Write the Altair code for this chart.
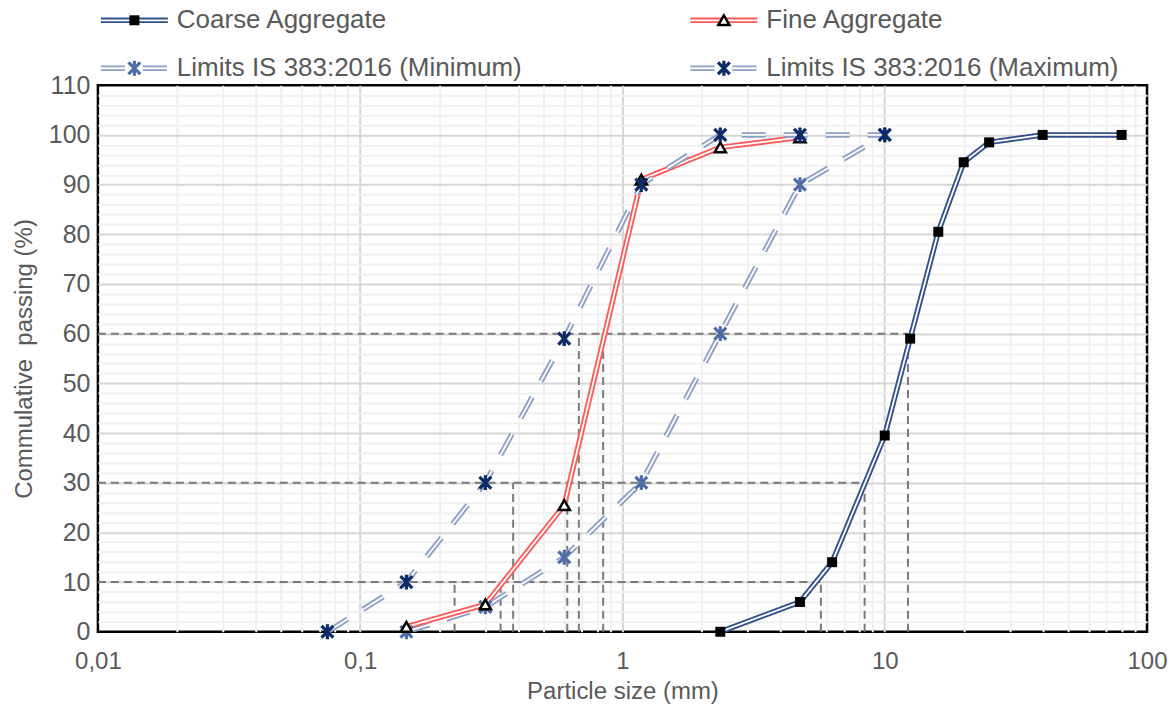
import altair as alt
import pandas as pd

# ---------------- data ----------------
series_names = [
    "Coarse Aggregate",
    "Fine Aggregate",
    "Limits IS 383:2016 (Minimum)",
    "Limits IS 383:2016 (Maximum)",
]

coarse_size = [2.36, 4.75, 6.3, 10, 12.5, 16, 20, 25, 40, 80]
coarse_pass = [0, 6, 14, 39.5, 59, 80.5, 94.5, 98.5, 100, 100]

fine_size = [0.15, 0.3, 0.6, 1.18, 2.36, 4.75]
fine_pass = [1, 5.5, 25.5, 91, 97.5, 99.5]

min_size = [0.15, 0.3, 0.6, 1.18, 2.36, 4.75, 10]
min_pass = [0, 5, 15, 30, 60, 90, 100]

max_size = [0.075, 0.15, 0.3, 0.6, 1.18, 2.36, 4.75, 10]
max_pass = [0, 10, 30, 59, 90, 100, 100, 100]

# dashed reference lines (D10 / D30 / D60 read-offs)
vline_size = [0.229, 0.343, 0.383, 0.616, 0.682, 0.844, 5.71, 8.38, 12.26]
vline_top = [10, 10, 30, 30, 60, 60, 10, 30, 60]
vline_base = [0] * len(vline_size)
hline_pass = [10, 30, 60]
hline_start = [0.01, 0.01, 0.01]
hline_end = [5.71, 8.38, 12.26]

x_major = [0.01, 0.1, 1, 10, 100]
x_minor = [m * 10.0 ** e for e in range(-2, 2) for m in range(2, 10)]
y_grid = list(range(0, 111, 2))

# ---------------- styles ----------------
FONT = "Liberation Sans"
TXT = "#595959"
line_colors = ["#31508c", "#ff5a5a", "#8c9fc4", "#8c9fc4"]
dashes = [[1, 0], [1, 0], [24, 18], [24, 18]]
ASTER = "M-0.8,-0.8L0.8,0.8M-0.8,0.8L0.8,-0.8M0,-1L0,1"

marker_props = {
    series_names[0]: dict(shape="square", filled=True, color="#000000", size=100, opacity=1),
    series_names[1]: dict(shape="triangle-up", filled=True, fill="#ffffff", stroke="#000000",
                          strokeWidth=2.5, size=125, opacity=1),
    series_names[2]: dict(shape=ASTER, filled=False, stroke="#4f6da6", strokeWidth=3.2,
                          size=220, opacity=1),
    series_names[3]: dict(shape=ASTER, filled=False, stroke="#0d2b66", strokeWidth=3.2,
                          size=220, opacity=1),
}

rows = []
for name, xs, ys in zip(series_names,
                        [coarse_size, fine_size, min_size, max_size],
                        [coarse_pass, fine_pass, min_pass, max_pass]):
    for i, (xv, yv) in enumerate(zip(xs, ys)):
        rows.append({"series": name, "size": xv, "pass": yv, "i": i})
df = pd.DataFrame(rows)

vdf = pd.DataFrame({"size": vline_size, "pass": vline_top, "base": vline_base})
hdf = pd.DataFrame({"size": hline_start, "size_end": hline_end, "pass": hline_pass})

decade_test = "indexof([0.01,0.1,1,10,100], datum.value) >= 0"
x_edge_test = "datum.value <= 0.0100001 || datum.value >= 99.999"
y_edge_test = "datum.value <= 0 || datum.value >= 110"

x_axis = alt.Axis(
    values=x_minor + x_major,
    format="~g",
    labelExpr=f"{decade_test} ? replace(datum.label, '.', ',') : ''",
    labelOverlap=False,
    labelFlush=False,
    grid=True,
    gridColor={"condition": {"test": decade_test, "value": "#d6d6d6"}, "value": "#f0f0f0"},
    gridOpacity={"condition": {"test": x_edge_test, "value": 0}, "value": 1},
    gridWidth=2,
    ticks=False,
    domain=False,
    labelFontSize=24,
    labelFont=FONT,
    labelColor=TXT,
    labelPadding=18,
    title="Particle size (mm)",
    titleFontSize=24,
    titleFont=FONT,
    titleColor=TXT,
    titleFontWeight="normal",
    titlePadding=6,
)
y_axis = alt.Axis(
    values=y_grid,
    labelExpr="datum.value % 10 === 0 ? datum.label : ''",
    labelOverlap=False,
    labelFlush=False,
    grid=True,
    gridColor={"condition": {"test": "datum.value % 10 === 0", "value": "#d6d6d6"}, "value": "#f0f0f0"},
    gridOpacity={"condition": {"test": y_edge_test, "value": 0}, "value": 1},
    gridWidth=2,
    ticks=False,
    domain=False,
    labelFontSize=25,
    labelFont=FONT,
    labelColor=TXT,
    labelPadding=8,
    title="Commulative\u00a0 passing (%)",
    titleFontSize=24,
    titleFont=FONT,
    titleColor=TXT,
    titleFontWeight="normal",
    titlePadding=12,
)

xs_ = alt.Scale(type="log", domain=[0.01, 100], nice=False)
ys_ = alt.Scale(domain=[0, 110], nice=False)


def X(field):
    return alt.X(f"{field}:Q", scale=xs_, axis=x_axis)


def Y(field):
    return alt.Y(f"{field}:Q", scale=ys_, axis=y_axis)


layers = []
# reference dashed lines
layers.append(
    alt.Chart(vdf).mark_rule(color="#7a7a7a", strokeWidth=2, strokeDash=[8, 5]).encode(
        x=X("size"), y=Y("base"), y2="pass")
)
layers.append(
    alt.Chart(hdf).mark_rule(color="#7a7a7a", strokeWidth=2, strokeDash=[8, 5]).encode(
        x=X("size"), x2="size_end", y=Y("pass"))
)

draw_order = [0, 2, 1, 3]
for k in draw_order:
    name = series_names[k]
    base = alt.Chart(df).transform_filter(alt.datum.series == name)
    layers.append(base.mark_line(color=line_colors[k], strokeWidth=5.5, strokeDash=dashes[k]).encode(
        x=X("size"), y=Y("pass"), order="i:Q"))
    layers.append(base.mark_line(color="#ffffff", strokeWidth=1.8, strokeDash=dashes[k]).encode(
        x=X("size"), y=Y("pass"), order="i:Q"))
for k in draw_order:
    name = series_names[k]
    base = alt.Chart(df).transform_filter(alt.datum.series == name)
    layers.append(base.mark_point(**marker_props[name]).encode(x=X("size"), y=Y("pass")))

main = alt.layer(*layers).properties(
    width=1050, height=547,
    view=alt.ViewBackground(stroke="#000000", strokeWidth=2.5, fill="#ffffff"),
)

# ---------------- legend ----------------
leg_df = pd.DataFrame({"series": series_names, "col": [0, 1, 0, 1], "row": [0, 0, 1, 1]})
lx = alt.X("col:Q", scale=alt.Scale(domain=[0, 1], range=[3, 593]), axis=None)
ly = alt.Y("row:Q", scale=alt.Scale(domain=[0, 1], range=[15, 63]), axis=None)
LINE = "M-1,0L1,0"
SYM_W = 67
leg_layers = []
for k, name in enumerate(series_names):
    lb = alt.Chart(leg_df).transform_filter(alt.datum.series == name)
    leg_layers.append(lb.mark_point(shape=LINE, size=SYM_W * SYM_W, filled=False, opacity=1,
                                    stroke=line_colors[k], strokeWidth=5.5, strokeDash=dashes[k],
                                    xOffset=SYM_W / 2).encode(x=lx, y=ly))
    leg_layers.append(lb.mark_point(shape=LINE, size=SYM_W * SYM_W, filled=False, opacity=1,
                                    stroke="#ffffff", strokeWidth=1.8, strokeDash=dashes[k],
                                    xOffset=SYM_W / 2).encode(x=lx, y=ly))
    leg_layers.append(lb.mark_point(xOffset=SYM_W / 2, **marker_props[name]).encode(x=lx, y=ly))
leg_layers.append(
    alt.Chart(leg_df).mark_text(align="left", baseline="middle", dx=76, fontSize=26,
                                font=FONT, color=TXT).encode(x=lx, y=ly, text="series:N")
)
legend = alt.layer(*leg_layers).properties(
    width=1050, height=70,
    view=alt.ViewBackground(strokeWidth=0),
)

chart = alt.vconcat(legend, main, spacing=10, bounds="flush").properties(
    padding={"left": 11, "top": 5, "right": 5, "bottom": 5},
    background="#ffffff",
).configure_view(strokeWidth=0)

chart.save("out.html", embed_options={"renderer": "svg", "actions": False})
